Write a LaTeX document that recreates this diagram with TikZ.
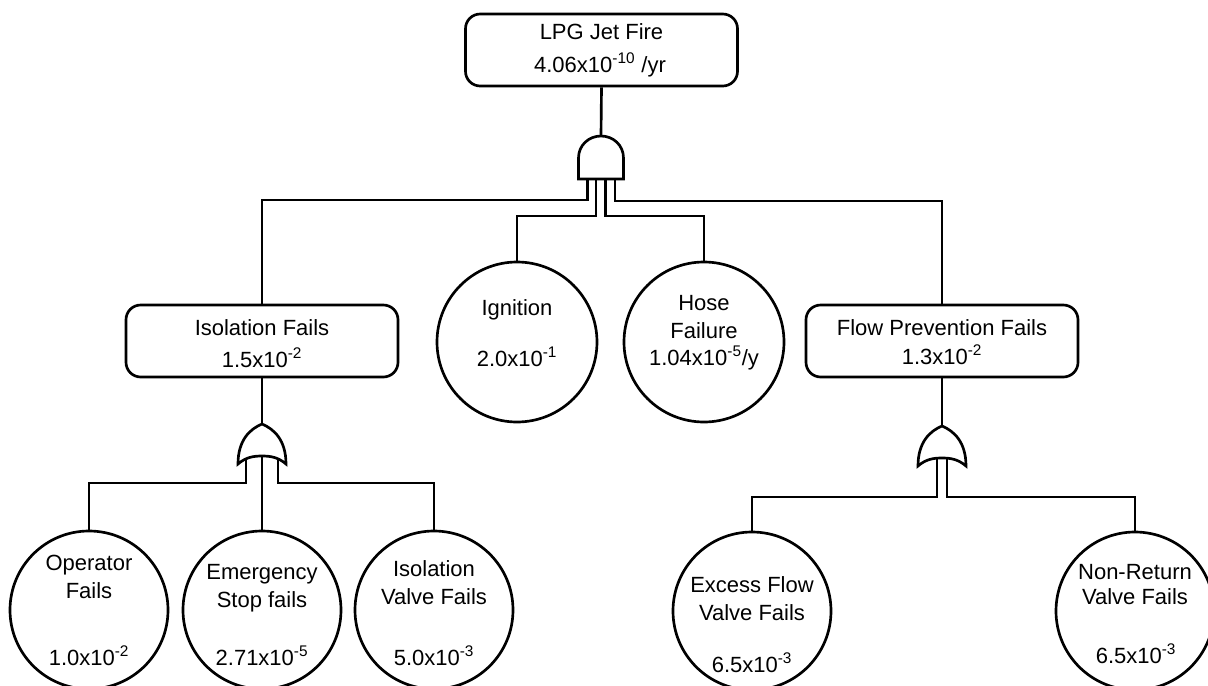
\documentclass[tikz,border=0pt]{standalone}
\usepackage{fontspec}
\setmainfont{Liberation Sans}
\tikzset{
  box/.style={draw, line width=2pt, rounded corners=11pt, minimum width=204pt, minimum height=54pt, inner sep=0pt},
  ev/.style={draw, circle, line width=2pt, minimum size=118.5pt, inner sep=0pt},
  evbig/.style={ev, minimum size=120pt},
  txt/.style={anchor=base, inner sep=0pt, font=\fontsize{16.5}{20}\selectfont},
  wire/.style={line width=2pt},
  gate/.style={line width=2pt, line join=miter},
  orgate/.pic={
    \draw[gate] (0,0) .. controls (-12,5) and (-24,16) .. (-24,40)
      .. controls (-16,33) and (-8,32) .. (0,32)
      .. controls (8,32) and (16,33) .. (24,40)
      .. controls (24,16) and (12,5) .. cycle;
    \coordinate (-top) at (0,0);
    \coordinate (-l) at (-16,34.8);
    \coordinate (-m) at (0,32);
    \coordinate (-r) at (16,34.8);
    \coordinate (-il) at (-5,32.3);
    \coordinate (-ir) at (5,32.3);
  },
  andgate/.pic={
    \draw[gate] (-22.5,43) -- (-22.5,22) .. controls (-22.5,9) and (-12,0) .. (0,0)
      .. controls (12,0) and (22.5,9) .. (22.5,22) -- (22.5,43) -- cycle;
    \coordinate (-top) at (0,0);
    \coordinate (-i1) at (-13.5,43);
    \coordinate (-i2) at (-5,43);
    \coordinate (-i3) at (4.5,43);
    \coordinate (-i4) at (14,43);
  }
}
\begin{document}
\begin{tikzpicture}[x=0.75pt, y=-0.75pt]
\useasboundingbox (0,0) rectangle (1208,686);

% boxes
\node[box] (top) at (601.5,50) {};
\node[box] (iso) at (262,341) {};
\node[box] (flow) at (942,341) {};

\node[txt] (topT1) at (601.5,39) {LPG Jet Fire};
\node[txt] (topT2) at (600,72) {4.06x10\textsuperscript{-10} /yr};
\node[txt] (isoT1) at (262,335) {Isolation Fails};
\node[txt] (isoT2) at (262,367) {1.5x10\textsuperscript{-2}};
\node[txt] (flowT1) at (942,335) {Flow Prevention Fails};
\node[txt] (flowT2) at (942,364) {1.3x10\textsuperscript{-2}};

% circles
\node[evbig] (ign) at (517,342) {};
\node[evbig] (hose) at (704,342) {};
\node[ev] (op) at (89,610) {};
\node[ev] (es) at (262,610) {};
\node[ev] (iv) at (434,610) {};
\node[ev] (ef) at (752,611) {};
\node[ev] (nr) at (1135,611) {};

\node[txt] (ignT1) at (517,315) {Ignition};
\node[txt] (ignT2) at (517,366) {2.0x10\textsuperscript{-1}};
\node[txt] (hoseT1) at (704,310) {Hose};
\node[txt] (hoseT2) at (704,338) {Failure};
\node[txt] (hoseT3) at (704,365) {1.04x10\textsuperscript{-5}/y};
\node[txt] (opT1) at (89,570) {Operator};
\node[txt] (opT2) at (89,598) {Fails};
\node[txt] (opT3) at (89,665) {1.0x10\textsuperscript{-2}};
\node[txt] (esT1) at (262,579) {Emergency};
\node[txt] (esT2) at (262,607) {Stop fails};
\node[txt] (esT3) at (262,665) {2.71x10\textsuperscript{-5}};
\node[txt] (ivT1) at (434,576) {Isolation};
\node[txt] (ivT2) at (434,604) {Valve Fails};
\node[txt] (ivT3) at (434,665) {5.0x10\textsuperscript{-3}};
\node[txt] (efT1) at (752,592) {Excess Flow};
\node[txt] (efT2) at (752,620) {Valve Fails};
\node[txt] (efT3) at (752,672) {6.5x10\textsuperscript{-3}};
\node[txt] (nrT1) at (1135,579) {Non-Return};
\node[txt] (nrT2) at (1135,604) {Valve Fails};
\node[txt] (nrT3) at (1136,663) {6.5x10\textsuperscript{-3}};

% gates
\pic (ag) at (601,136) {andgate};
\pic (ogL) at (262,424) {orgate};
\pic (ogR) at (942,426) {orgate};

% connectors
\draw[wire] (top.south) -- (ag-top);
\draw[wire] (ag-i1) -- ++(0,21) -| (iso.north);
\draw[wire] (ag-i4) -- ++(0,22) -| (flow.north);
\draw[wire] (ag-i2) -- ++(0,37) -| (ign.north);
\draw[wire] (ag-i3) -- ++(0,37) -| (hose.north);

\draw[wire] (iso.south) -- (ogL-top);
\draw[wire] (ogL-l) -- ++(0,24.2) -| (op.north);
\draw[wire] (ogL-m) -- (es.north);
\draw[wire] (ogL-r) -- ++(0,24.2) -| (iv.north);

\draw[wire] (flow.south) -- (ogR-top);
\draw[wire] (ogR-il) -- ++(0,38.7) -| (ef.north);
\draw[wire] (ogR-ir) -- ++(0,38.7) -| (nr.north);
\end{tikzpicture}
\end{document}
